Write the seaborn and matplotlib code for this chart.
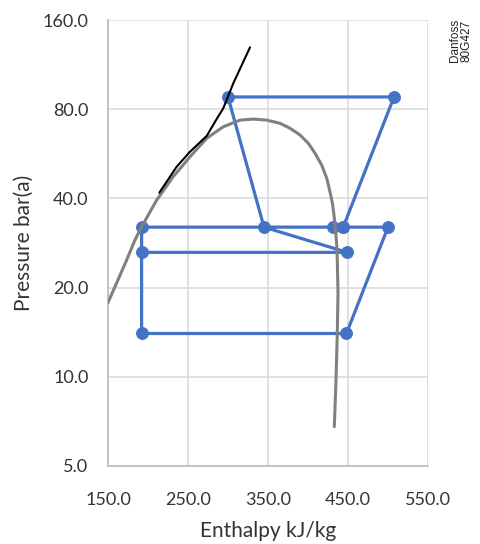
import matplotlib
matplotlib.use("Agg")
import matplotlib.pyplot as plt
import seaborn as sns
import pandas as pd

# ---- datos leidos del diagrama ----
# ciclo (orden del trazo)
ciclo_h = [192, 449, 345, 300, 507.5, 444, 500, 448, 192, 192, 431.7, 444]
ciclo_p = [26.3, 26.3, 32, 88, 88, 32, 32, 14, 14, 32, 32, 32]

# campana de saturacion
campana_h = [150, 173.4, 183.8, 192.1, 210.9, 231.6, 252.5, 273.4, 294.1, 315, 331.6,
             348.4, 365, 377.5, 390, 400.4, 408.8, 417.1, 423.4, 427.5, 430.9, 432.9,
             434.6, 435.9, 436.6, 437.5, 436.6, 435, 432.9]
campana_p = [17.8, 24.8, 29.0, 32.1, 39.5, 47.4, 55.3, 63.8, 69.8, 73.5, 74.1,
             73.5, 71.7, 69.0, 65.5, 61.4, 56.8, 51.8, 46.8, 42.1, 38.0, 34.3,
             30.8, 27.9, 24.8, 19.2, 14.05, 9.76, 6.79]

# linea negra (transcritica)
linea_h = [214.1, 235.9, 252.5, 273.4, 285, 294.1, 306.6, 327.5]
linea_p = [41.8, 51.2, 57.5, 65.0, 73.5, 80.6, 97.8, 129.4]

x_ticks = [150, 250, 350, 450, 550]
y_ticks = [5, 10, 20, 40, 80, 160]

df_ciclo = pd.DataFrame({"h": ciclo_h, "p": ciclo_p})
df_campana = pd.DataFrame({"h": campana_h, "p": campana_p})
df_linea = pd.DataFrame({"h": linea_h, "p": linea_p})

sns.set_theme(style="whitegrid")
plt.rcParams['font.family'] = ['Lato', 'DejaVu Sans']

fig = plt.figure(figsize=(4.8, 5.44), dpi=100)
ax = fig.add_axes([0.225, 0.1434, 0.6667, 0.8198])

azul = "#4472C4"
sns.lineplot(data=df_ciclo, x="h", y="p", ax=ax, sort=False, estimator=None,
             color=azul, linewidth=2.3, marker="o", markersize=8.5,
             markeredgecolor=azul, zorder=3)
sns.lineplot(data=df_campana, x="h", y="p", ax=ax, sort=False, estimator=None,
             color="#808080", linewidth=2.2, zorder=4)
sns.lineplot(data=df_linea, x="h", y="p", ax=ax, sort=False, estimator=None,
             color="black", linewidth=1.5, zorder=5)

ax.set_yscale("log")
ax.set_xlim(150, 550)
ax.set_ylim(5, 160)
ax.set_xticks(x_ticks)
ax.set_xticklabels([f"{v:.1f}" for v in x_ticks])
ax.set_yticks(y_ticks)
ax.set_yticklabels([f"{v:.1f}" for v in y_ticks])
ax.minorticks_off()

ax.grid(True, color="#D9D9D9", linewidth=1.1)
ax.tick_params(axis="both", length=0, labelsize=13, colors="#333333")
ax.tick_params(axis="x", pad=19)
ax.tick_params(axis="y", pad=14)
for lado in ["top", "right"]:
    ax.spines[lado].set_visible(False)
for lado in ["left", "bottom"]:
    ax.spines[lado].set_color("#BFBFBF")
    ax.spines[lado].set_linewidth(1.3)

ax.set_xlabel("Enthalpy kJ/kg", fontsize=15, color="#333333", labelpad=9)
ax.set_ylabel("Pressure bar(a)", fontsize=15, color="#333333", labelpad=6)

fig.text(0.960, 0.966, "Danfoss\n80G427", rotation=90, ha="center", va="top",
         fontsize=8.5, linespacing=0.85, multialignment="left",
         family="Liberation Sans", color="#222222")

plt.savefig("out.png", dpi=100)
